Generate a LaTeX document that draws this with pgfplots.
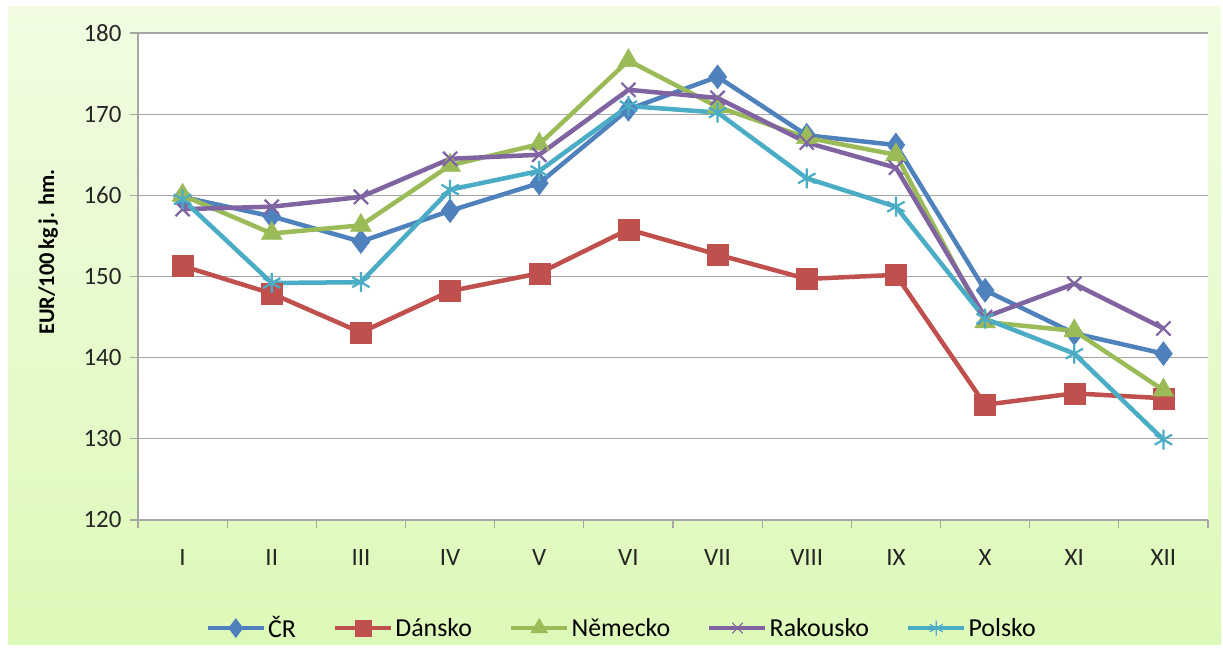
\documentclass[border=0pt]{standalone}
\usepackage{pgfplots}
\pgfplotsset{compat=1.18}
\usepackage{fontspec}
\setmainfont{Carlito}

\definecolor{cCR}{HTML}{4F81BD}
\definecolor{cDK}{HTML}{C0504D}
\definecolor{cDE}{HTML}{9BBB59}
\definecolor{cAT}{HTML}{8064A2}
\definecolor{cPL}{HTML}{4BACC6}
\definecolor{gridgray}{HTML}{A6A6A6}
\definecolor{txt}{HTML}{262626}

\begin{document}
\begin{tikzpicture}
\path[use as bounding box] (0,0) rectangle (1223bp,650bp);
\shade[top color={rgb,255:red,241;green,252;blue,226}, bottom color={rgb,255:red,221;green,249;blue,184}]
  (8bp,5bp) rectangle (1221bp,643bp);
\begin{axis}[
    at={(138bp,130bp)}, anchor=south west,
    scale only axis,
    width=1070bp, height=487bp,
    axis background/.style={fill=white},
    xmin=-0.5, xmax=11.5,
    ymin=120, ymax=180,
    xtick={0,...,11},
    xticklabels={I,II,III,IV,V,VI,VII,VIII,IX,X,XI,XII},
    minor xtick={-0.5,0.5,...,11.5},
    ytick={120,130,...,180},
    ymajorgrids,
    grid style={gridgray, line width=1.2bp},
    axis x line*=bottom, axis y line*=left,
    axis line style={gridgray, line width=1.2bp},
    tick align=outside,
    major tick length=8bp, minor tick length=8bp,
    xtick style={draw=none},
    minor x tick style={draw=gridgray, line width=1.2bp},
    ytick style={gridgray, line width=1.2bp},
    tick label style={font=\fontsize{25}{30}\selectfont, text=txt},
    /pgf/number format/assume math mode=true,
    yticklabel style={xshift=-5bp},
    xticklabel style={yshift=-18bp},
    ylabel={\textbf{EUR/100\,kg\,j. hm.}},
    ylabel style={at={(axis description cs:-0.084,0.55)}, anchor=center, font=\fontsize{22.5}{26}\selectfont, text=black},
    every axis plot/.append style={line width=4.5bp},
    legend columns=5,
    legend style={at={(axis description cs:0.452,-0.222)}, anchor=center,
        draw=none, fill=none, font=\fontsize{26}{30}\selectfont, text=black,
        /tikz/every even column/.append style={column sep=35bp}},
    legend image code/.code={\draw[mark repeat=2,mark phase=2,mark options={solid, scale=0.75, line width=1.2bp}] plot coordinates {(0bp,0bp) (28bp,0bp) (56bp,0bp)};},
]
\addplot[cCR, mark=diamond*, mark size=12bp, mark options={solid, line width=0.5bp}] coordinates {
 (0,159.8) (1,157.4) (2,154.3) (3,158.1) (4,161.5) (5,170.6) (6,174.6) (7,167.4) (8,166.2) (9,148.3) (10,143.0) (11,140.5)};
\addlegendentry{ČR}
\addplot[cDK, mark=square*, mark size=10.5bp, mark options={solid, line width=0.5bp}] coordinates {
 (0,151.3) (1,147.9) (2,143.1) (3,148.2) (4,150.4) (5,155.8) (6,152.7) (7,149.7) (8,150.2) (9,134.2) (10,135.6) (11,135.0)};
\addlegendentry{Dánsko}
\addplot[cDE, mark=triangle*, mark size=12bp, mark options={solid, line width=0.5bp}] coordinates {
 (0,160.0) (1,155.3) (2,156.3) (3,163.7) (4,166.3) (5,176.6) (6,170.9) (7,167.1) (8,165.0) (9,144.4) (10,143.3) (11,136.0)};
\addlegendentry{Německo}
\addplot[cAT, mark=x, mark size=10bp, mark options={solid, line width=2.2bp}] coordinates {
 (0,158.3) (1,158.6) (2,159.8) (3,164.5) (4,165.0) (5,173.0) (6,172.0) (7,166.5) (8,163.4) (9,145.0) (10,149.1) (11,143.6)};
\addlegendentry{Rakousko}
\addplot[cPL, mark=asterisk, mark size=10bp, mark options={solid, line width=2.2bp}] coordinates {
 (0,159.5) (1,149.2) (2,149.3) (3,160.7) (4,163.0) (5,171.0) (6,170.2) (7,162.1) (8,158.6) (9,144.8) (10,140.5) (11,129.9)};
\addlegendentry{Polsko}
\end{axis}
\end{tikzpicture}
\end{document}
